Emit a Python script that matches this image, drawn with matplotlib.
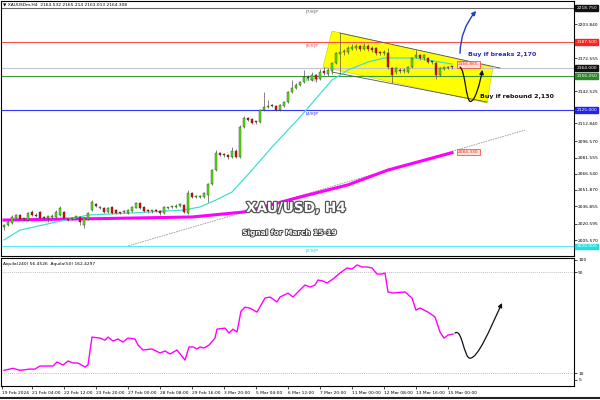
import numpy as np
import matplotlib.pyplot as plt
import matplotlib.patheffects as pe
import matplotlib.transforms as mtransforms
from matplotlib.patches import Polygon, FancyArrowPatch
from matplotlib.path import Path

# velas H4 XAU/USD (apertura, cierre, maximo, minimo)
opens = [2017.8, 2019.6, 2021.5, 2026.0, 2028.8, 2025.5, 2024.2, 2031.6, 2029.0, 2031.6,
         2026.5, 2026.5, 2027.0, 2027.0, 2029.0, 2031.6, 2025.5, 2025.5, 2026.5, 2027.0,
         2019.6, 2025.0, 2033.4, 2038.5, 2035.3, 2035.3, 2031.6, 2036.2, 2033.4, 2031.0,
         2031.6, 2030.7, 2032.5, 2035.5, 2039.8, 2036.2, 2032.8, 2032.2, 2032.8, 2032.5,
         2030.7, 2035.0, 2035.8, 2036.2, 2037.5, 2038.0, 2030.7, 2049.0, 2045.3, 2045.5,
         2045.3, 2047.0, 2057.0, 2070.0, 2085.0, 2084.5, 2084.0, 2082.0, 2087.5, 2082.0,
         2109.6, 2117.0, 2116.9, 2114.6, 2114.2, 2125.2, 2128.0, 2129.2, 2128.8, 2125.2,
         2128.8, 2132.5, 2141.7, 2145.4, 2148.1, 2150.9, 2155.4, 2153.0, 2157.0, 2154.0,
         2161.0, 2158.0, 2161.0, 2168.0, 2177.0, 2178.0, 2178.4, 2181.0, 2182.0, 2183.5,
         2181.0, 2184.0, 2182.0, 2182.0, 2178.0, 2177.5, 2177.5, 2163.7, 2160.0, 2162.0,
         2161.0, 2160.0, 2164.6, 2173.5, 2175.6, 2172.9, 2172.9, 2169.5, 2168.3, 2157.3,
         2163.2, 2163.7, 2164.5]
closes = [2019.6, 2022.4, 2027.0, 2028.8, 2025.0, 2025.0, 2030.7, 2028.8, 2028.0, 2026.1,
          2026.0, 2027.0, 2027.8, 2031.6, 2035.3, 2026.1, 2024.2, 2026.1, 2027.0, 2022.4,
          2026.1, 2030.7, 2040.7, 2037.1, 2035.8, 2031.6, 2035.3, 2030.7, 2030.7, 2030.5,
          2032.0, 2033.4, 2036.2, 2039.8, 2035.3, 2032.5, 2032.2, 2032.7, 2032.2, 2030.7,
          2036.2, 2035.6, 2036.5, 2037.1, 2038.5, 2031.6, 2049.0, 2045.3, 2045.8, 2046.2,
          2049.0, 2057.0, 2070.0, 2085.7, 2084.3, 2083.9, 2082.0, 2087.5, 2082.0, 2109.6,
          2117.8, 2116.4, 2113.3, 2114.0, 2125.2, 2128.0, 2128.8, 2128.8, 2125.2, 2129.7,
          2132.5, 2141.7, 2145.4, 2148.1, 2150.9, 2155.4, 2154.5, 2157.0, 2153.6, 2160.0,
          2159.0, 2161.9, 2168.3, 2177.5, 2178.0, 2178.8, 2182.0, 2183.0, 2183.5, 2181.0,
          2184.0, 2181.0, 2180.0, 2177.5, 2177.2, 2178.4, 2164.6, 2157.3, 2163.7, 2161.0,
          2162.0, 2164.6, 2172.9, 2175.6, 2172.9, 2175.6, 2169.2, 2168.8, 2157.3, 2163.7,
          2163.8, 2164.6, 2164.3]
highs = [2021.0, 2024.0, 2028.5, 2030.0, 2029.5, 2026.5, 2031.5, 2033.0, 2030.5, 2032.5,
         2027.5, 2028.0, 2029.5, 2033.0, 2037.0, 2032.5, 2026.5, 2027.0, 2028.0, 2028.0,
         2027.0, 2031.5, 2043.0, 2039.5, 2037.0, 2036.5, 2036.5, 2037.0, 2034.5, 2032.0,
         2033.0, 2034.5, 2037.0, 2041.0, 2040.5, 2037.0, 2034.0, 2033.5, 2034.0, 2033.5,
         2037.0, 2036.5, 2037.5, 2038.5, 2040.0, 2039.0, 2052.0, 2050.0, 2047.0, 2047.5,
         2050.0, 2058.0, 2071.0, 2088.5, 2086.5, 2085.5, 2085.0, 2091.0, 2089.0, 2111.0,
         2119.5, 2118.5, 2118.0, 2115.5, 2126.5, 2141.7, 2134.3, 2130.5, 2129.5, 2130.5,
         2133.5, 2142.5, 2152.7, 2149.5, 2152.0, 2161.9, 2157.0, 2160.0, 2158.0, 2162.5,
         2165.0, 2163.5, 2169.5, 2178.5, 2195.8, 2181.0, 2184.0, 2185.5, 2186.0, 2185.0,
         2186.5, 2185.5, 2183.5, 2183.0, 2179.5, 2180.0, 2182.0, 2165.0, 2165.0, 2163.5,
         2163.5, 2166.0, 2174.0, 2180.2, 2176.5, 2177.0, 2174.0, 2170.5, 2169.0, 2164.5,
         2165.0, 2165.5, 2165.2]
lows = [2015.5, 2018.5, 2020.5, 2025.0, 2024.0, 2023.5, 2023.5, 2028.0, 2027.0, 2025.0,
        2024.5, 2022.5, 2026.0, 2026.0, 2028.0, 2025.0, 2023.0, 2024.5, 2025.5, 2020.0,
        2017.0, 2024.0, 2032.5, 2036.0, 2034.0, 2030.5, 2030.5, 2029.5, 2030.0, 2029.5,
        2030.5, 2030.0, 2032.0, 2035.0, 2034.5, 2031.5, 2031.0, 2031.0, 2031.5, 2028.5,
        2030.0, 2034.0, 2035.0, 2035.5, 2036.5, 2030.5, 2029.5, 2044.5, 2044.0, 2044.5,
        2044.5, 2040.5, 2056.0, 2069.0, 2083.0, 2082.5, 2080.5, 2081.0, 2081.0, 2081.0,
        2108.5, 2115.0, 2112.0, 2112.5, 2113.0, 2124.0, 2127.0, 2127.5, 2124.5, 2124.5,
        2128.0, 2131.5, 2140.5, 2144.5, 2147.0, 2150.0, 2152.5, 2151.5, 2151.0, 2152.5,
        2157.5, 2156.0, 2158.5, 2167.0, 2158.5, 2176.0, 2177.0, 2180.0, 2180.5, 2179.0,
        2180.0, 2179.5, 2178.5, 2176.0, 2175.5, 2176.0, 2163.0, 2150.0, 2158.5, 2159.5,
        2159.5, 2159.0, 2163.5, 2172.5, 2171.5, 2171.5, 2168.0, 2167.5, 2154.0, 2156.5,
        2162.0, 2162.5, 2163.0]

# medias moviles (indice de vela, precio)
ma_fast_idx = [0, 4, 21, 32, 45, 49, 53, 57, 62, 67, 74, 82, 86, 91, 95, 99, 103, 109, 112]
ma_fast_val = [2006.0, 2015.0, 2028.8, 2030.7, 2033.4, 2036.2, 2042.6, 2049.9, 2070.1, 2091.2,
               2118.7, 2152.7, 2161.9, 2169.2, 2172.9, 2172.9, 2172.9, 2169.2, 2167.4]
ma_slow_idx = [0, 24, 47, 60, 74, 86, 96, 112]
ma_slow_val = [2024.2, 2025.5, 2027.0, 2031.6, 2045.3, 2056.5, 2070.1, 2086.0]

# oscilador Aquila (panel inferior)
osc_idx = [0, 2.25, 4, 6.5, 7.75, 9, 12.25, 13.25, 14.75, 16, 17.25, 18.5, 20.25, 21, 22, 24,
           25.25, 26, 27.25, 28.5, 29.75, 31, 32.75, 33.5, 34.75, 37, 39, 40.25, 41.5, 43.25,
           45.25, 46.25, 47.25, 48.25, 49, 50, 51.25, 52.75, 53.25, 55.25, 56.25, 57.25, 58.25,
           59.25, 60.25, 61.5, 63.25, 65.25, 66.5, 68.25, 69, 71, 72.25, 74, 75.25, 76.5, 77.75,
           78.5, 79.75, 80.75, 82.25, 84, 85.75, 87, 88.25, 89.5, 90.75, 92, 93.25, 94.5, 95.25,
           96, 97.25, 100.25, 102, 103, 104, 106, 107.75, 109, 110, 111, 112.25]
osc_val = [12.4, 14.0, 12.4, 13.4, 13.4, 15.8, 15.8, 19.0, 16.6, 19.8, 18.2, 18.2, 15.0, 16.6,
           38.7, 37.9, 36.3, 38.7, 35.6, 37.2, 34.8, 37.9, 37.2, 32.4, 28.5, 29.3, 26.1, 27.7,
           25.3, 28.5, 20.5, 30.9, 30.9, 29.3, 30.9, 30.1, 32.4, 37.9, 45.0, 45.8, 41.9, 45.0,
           42.7, 59.3, 62.4, 61.6, 58.5, 69.6, 70.4, 66.5, 70.4, 73.5, 70.4, 76.0, 79.9, 78.3,
           79.9, 83.9, 83.1, 81.5, 84.7, 89.4, 93.4, 92.6, 95.8, 94.2, 94.2, 93.4, 88.6, 88.6,
           89.4, 74.4, 73.6, 74.4, 69.6, 60.1, 61.7, 58.5, 54.6, 42.7, 37.9, 40.3, 41.1]

# niveles Murrey y escala de precios
level_vals = [2218.75, 2187.5, 2164.0, 2156.25, 2125.0, 2000.0]
level_names = ['[7/8]P', '[6/8]P', '', '[5/8]P', '[4/8]P', '[0/8]P']
price_ticks = [2203.840, 2172.555, 2142.525, 2112.840, 2096.570, 2081.555, 2066.540,
               2051.870, 2036.855, 2020.595, 2005.570, 1998.555]
x_labels = ['19 Feb 2024', '21 Feb 04:00', '22 Feb 12:00', '23 Feb 20:00', '27 Feb 00:00',
            '28 Feb 08:00', '29 Feb 16:00', '3 Mar 20:00', '5 Mar 04:00', '6 Mar 12:00',
            '7 Mar 20:00', '11 Mar 00:00', '12 Mar 08:00', '13 Mar 16:00', '15 Mar 00:00']

# canal bajista y linea de tendencia
channel_x = [79.75, 82.0, 122.25, 120.75]
channel_y = [2164.6, 2197.6, 2164.6, 2131.6]
chan_top_x, chan_top_y = [84, 124], [2195.8, 2163.7]
chan_bot_x, chan_bot_y = [82, 120.75], [2160.0, 2132.5]
trend_x, trend_y = [31, 130.25], [2000.4, 2106.8]

fs = 3.2
fig = plt.figure(figsize=(6, 4), dpi=100)
ax = fig.add_axes([1 / 600, 144 / 400, 573 / 600, 255 / 400])
ax2 = fig.add_axes([1 / 600, 14 / 400, 573 / 600, 128 / 400])

for a in (ax, ax2):
    a.set_xlim(-0.75, 142.5)
    for s in a.spines.values():
        s.set_linewidth(0.8)
        s.set_color('black')
    a.yaxis.tick_right()
ax.set_ylim(1991.2, 2225.2)
ax2.set_ylim(0, 101.3)

# canal amarillo
ax.add_patch(Polygon(list(zip(channel_x, channel_y)), closed=True, fc='#ffff00',
                     ec='#c8c800', lw=0.4, zorder=1))
ax.plot(chan_top_x, chan_top_y, color='#555555', lw=0.6, zorder=2)
ax.plot(chan_bot_x, chan_bot_y, color='#555555', lw=0.6, zorder=2)
ax.plot(trend_x, trend_y, color='#999999', lw=0.6, ls=(0, (2, 1)), zorder=1)

level_colors = ['#666666', '#ff4d4d', '#c4c4cc', '#3a9a3a', '#3333ff', '#55f0f0']
box_colors = ['#111111', '#ff2020', '#111111', '#2a8a2a', '#2222ee', '#22e0e0']
trans = mtransforms.blended_transform_factory(ax.transAxes, ax.transData)
for v, name, lc, bc in zip(level_vals, level_names, level_colors, box_colors):
    ax.axhline(v, color=lc, lw=0.8, zorder=1.5)
    ax.text(1.004, v, f'{v:.3f}', transform=trans, fontsize=fs, color='white',
            va='center', ha='left', bbox=dict(boxstyle='square,pad=0.2', fc=bc, ec=bc),
            clip_on=False, zorder=9)
    if name:
        ax.text(75.5, v - 1.5, name, fontsize=fs, color=lc if lc != '#55f0f0' else '#22d0d0',
                va='top', ha='left', zorder=2)

# medias moviles
ax.plot(ma_slow_idx, ma_slow_val, color='#ff00ff', lw=2.2, zorder=2.5)
ax.plot(ma_fast_idx, ma_fast_val, color='#40e0d0', lw=0.9, zorder=2.5)

# velas
o, c, h, l = map(np.array, (opens, closes, highs, lows))
x = np.arange(len(o))
up = c >= o
bottom = np.minimum(o, c)
height = np.maximum(np.abs(c - o), 1.0)
ax.vlines(x, l, h, color='#555555', lw=0.5, zorder=3)
ax.bar(x, height, bottom=bottom, width=0.62, color=np.where(up, '#55ee00', '#ee0000'),
       edgecolor='#333333', lw=0.3, zorder=4)

# etiquetas de precio en rojo
for txt, yv in [('2166.865', 2167.0), ('2084.330', 2086.6)]:
    ax.text(113.5, yv, txt, fontsize=fs, color='#ff2020', va='center', ha='left', zorder=6,
            bbox=dict(boxstyle='square,pad=0.25', fc='#ffe4d8', ec='#ff3030', lw=0.5))

ax.set_yticks(price_ticks)
ax.set_yticklabels([f'{v:.3f}' for v in price_ticks])
ax.tick_params(axis='y', labelsize=fs, length=2, width=0.5, pad=1)
ax.set_xticks([])

# flechas de escenario
ax.add_patch(FancyArrowPatch((114, 2174.7), (118.5, 2218.0), connectionstyle='arc3,rad=-0.2',
                             arrowstyle='-|>', mutation_scale=6, color='#1f3fbf', lw=1.0,
                             zorder=7))
verts = [(114, 2164.5), (115.3, 2162), (115.5, 2133), (116.6, 2133),
         (117.8, 2133), (119.0, 2150), (119.6, 2162)]
codes = [Path.MOVETO] + [Path.CURVE4] * 6
ax.add_patch(FancyArrowPatch(path=Path(verts, codes), arrowstyle='-|>', mutation_scale=6,
                             color='#111111', lw=0.9, zorder=7))
ax.text(116, 2176.5, 'Buy if breaks 2,170', fontsize=4.5, fontweight='bold', color='#2a2ad0',
        va='center', ha='left', zorder=8)
ax.text(119, 2138, 'Buy if rebound 2,130', fontsize=4.5, fontweight='bold', color='#111111',
        va='center', ha='left', zorder=8)

stroke = [pe.withStroke(linewidth=1.8, foreground='#555555')]
ax.text(73.0, 2035.3, 'XAU/USD, H4', fontsize=9.8, fontweight='bold', color='white',
        ha='center', va='center', path_effects=stroke, zorder=8)
ax.text(71.5, 2012.3, 'Signal for March 15-19', fontsize=5.3, fontweight='bold', color='white',
        ha='center', va='center', path_effects=[pe.withStroke(linewidth=1.3, foreground='#444444')],
        zorder=8)
fig.text(3 / 600, 1 - 4.5 / 400, '\u25bc XAUUSDm,H4  2164.532 2165.214 2163.013 2164.308',
         fontsize=fs, va='center', ha='left')

# panel inferior
ax2.plot(osc_idx, osc_val, color='#ff00ff', lw=1.0, zorder=3)
for lv in (90, 10):
    ax2.axhline(lv, color='#aaaaaa', lw=0.5, ls=(0, (1.5, 1.5)))
verts2 = [(112.75, 41.9), (114.5, 46), (115.0, 22), (116.5, 22),
          (118.5, 22), (121.5, 45), (124.5, 65.7)]
ax2.add_patch(FancyArrowPatch(path=Path(verts2, codes), arrowstyle='-|>', mutation_scale=6,
                              color='#111111', lw=0.9, zorder=7))
ax2.text(0.004, 0.955, 'Aquila(240) 56.4526  Aquila(50) 162.4297', transform=ax2.transAxes,
         fontsize=fs, va='center', ha='left')
ax2.set_yticks([100, 90, 10, 5])
ax2.set_yticklabels(['100', '90', '10', '5'])
ax2.tick_params(axis='y', labelsize=fs, length=2, width=0.5, pad=1)

tick_pos = [-0.6] + [7 + 8 * k for k in range(len(x_labels) - 1)]
ax2.set_xticks(tick_pos)
ax2.set_xticklabels(x_labels, fontsize=fs, ha='left')
ax2.tick_params(axis='x', length=2, width=0.5, pad=1.5)

fig.add_artist(plt.Line2D([0, 1], [0.004, 0.004], color='#222222', lw=1.5))
fig.savefig('out.png', dpi=100, facecolor='white')
